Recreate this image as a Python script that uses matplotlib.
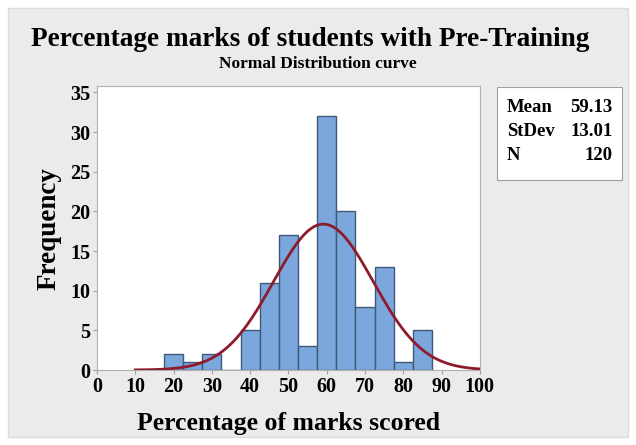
import matplotlib
matplotlib.use("Agg")
import matplotlib.pyplot as plt
import numpy as np
from matplotlib.patches import Rectangle

# histogram data (bin width 5)
bin_edges = [17.5, 22.5, 27.5, 32.5, 37.5, 42.5, 47.5, 52.5, 57.5, 62.5, 67.5, 72.5, 77.5, 82.5, 87.5]
counts = [2, 1, 2, 0, 5, 11, 17, 3, 32, 20, 8, 13, 1, 5]
mean = 59.13
stdev = 13.01
n = 120
x_ticks = [0, 10, 20, 30, 40, 50, 60, 70, 80, 90, 100]
y_ticks = [0, 5, 10, 15, 20, 25, 30, 35]

plt.rcParams['font.family'] = ['Liberation Serif', 'DejaVu Serif']
plt.rcParams['font.weight'] = 'bold'

fig = plt.figure(figsize=(6.36, 4.45), dpi=100)
fig.patch.set_facecolor('white')
# gray panel behind everything
fig.patches.append(Rectangle((0.012, 0.018), 0.976, 0.964, transform=fig.transFigure,
                             facecolor='#ebebeb', edgecolor='#dcdcdc', zorder=-10))

ax = fig.add_axes([0.1525, 0.1685, 0.602, 0.638])
widths = np.diff(bin_edges)
ax.bar(bin_edges[:-1], counts, width=widths, align='edge',
       color='#7ba7dd', edgecolor='#3e5a78', linewidth=1.0, zorder=2)

xs = np.linspace(10, 100, 300)
ys = n * 5 / (stdev * np.sqrt(2 * np.pi)) * np.exp(-0.5 * ((xs - mean) / stdev) ** 2)
ax.plot(xs, ys, color='#8e1b2c', linewidth=2, zorder=3)

ax.set_xlim(0, 100)
ax.set_ylim(0, 35.8)
ax.set_xticks(x_ticks)
ax.set_yticks(y_ticks)
ax.tick_params(axis='both', labelsize=14.5, color='#a0a0a0', length=3, width=0.8, pad=2)
for lab in ax.get_xticklabels() + ax.get_yticklabels():
    lab.set_fontweight('bold')
for s in ax.spines.values():
    s.set_color('#b0b0b0')

ax.set_xlabel('Percentage of marks scored', fontsize=18.5, fontweight='bold', labelpad=11)
ax.set_ylabel('Frequency', fontsize=19.5, fontweight='bold', labelpad=6)

fig.text(0.488, 0.912, 'Percentage marks of students with Pre-Training',
         ha='center', va='center', fontsize=19.6, fontweight='bold')
fig.text(0.5, 0.857, 'Normal Distribution curve',
         ha='center', va='center', fontsize=12.5, fontweight='bold')

# stats box
fig.patches.append(Rectangle((0.781, 0.5955), 0.197, 0.209, transform=fig.transFigure,
                             facecolor='white', edgecolor='#a0a0a0', linewidth=0.8, zorder=1))
labels = ['Mean', 'StDev', 'N']
values = [f'{mean:.2f}', f'{stdev:.2f}', f'{n}']
for i, (l, v) in enumerate(zip(labels, values)):
    y = 0.758 - i * 0.054
    fig.text(0.797, y, l, ha='left', va='center', fontsize=13.5, fontweight='bold')
    fig.text(0.963, y, v, ha='right', va='center', fontsize=13.5, fontweight='bold')

fig.savefig('out.png', dpi=100)
